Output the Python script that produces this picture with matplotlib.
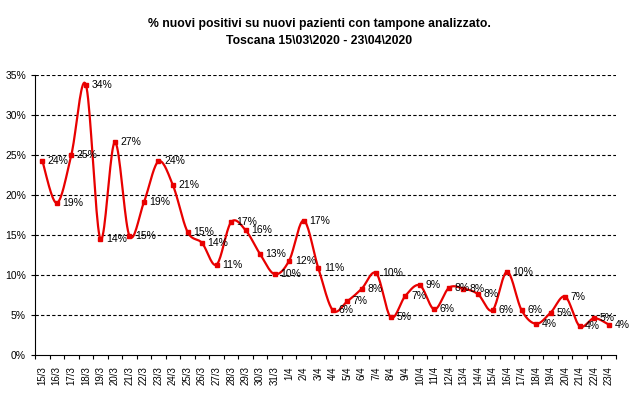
import numpy as np
import matplotlib
matplotlib.use("Agg")
import matplotlib.pyplot as plt
from matplotlib.ticker import FuncFormatter

plt.rcParams['font.family'] = ['Liberation Sans', 'DejaVu Sans']

# giorni (15/3 - 23/4)
giorni = ["15/3", "16/3", "17/3", "18/3", "19/3", "20/3", "21/3", "22/3", "23/3", "24/3",
          "25/3", "26/3", "27/3", "28/3", "29/3", "30/3", "31/3", "1/4", "2/4", "3/4",
          "4/4", "5/4", "6/4", "7/4", "8/4", "9/4", "10/4", "11/4", "12/4", "13/4",
          "14/4", "15/4", "16/4", "17/4", "18/4", "19/4", "20/4", "21/4", "22/4", "23/4"]

# % nuovi positivi su nuovi pazienti testati
perc = [24.3, 19.0, 25.0, 33.8, 14.5, 26.6, 14.9, 19.1, 24.2, 21.2,
        15.4, 14.0, 11.3, 16.6, 15.6, 12.6, 10.1, 11.8, 16.8, 10.9,
        5.6, 6.7, 8.3, 10.2, 4.7, 7.4, 8.7, 5.7, 8.4, 8.3,
        7.6, 5.6, 10.4, 5.6, 3.9, 5.3, 7.3, 3.6, 4.6, 3.8]

x = np.arange(len(perc))
y = np.array(perc)

# linea smussata tipo Excel (bezier catmull-rom tra i punti)
def smussa(x, y, n=20):
    px = np.concatenate([[x[0]], x, [x[-1]]])
    py = np.concatenate([[y[0]], y, [y[-1]]])
    xs, ys = [], []
    t = np.linspace(0, 1, n)
    for i in range(1, len(px) - 2):
        p0 = np.array([px[i], py[i]])
        p3 = np.array([px[i + 1], py[i + 1]])
        p1 = p0 + (np.array([px[i + 1], py[i + 1]]) - np.array([px[i - 1], py[i - 1]])) / 6
        p2 = p3 - (np.array([px[i + 2], py[i + 2]]) - np.array([px[i], py[i]])) / 6
        b = ((1 - t) ** 3)[:, None] * p0 + (3 * (1 - t) ** 2 * t)[:, None] * p1 \
            + (3 * (1 - t) * t ** 2)[:, None] * p2 + (t ** 3)[:, None] * p3
        xs.append(b[:, 0])
        ys.append(b[:, 1])
    return np.concatenate(xs), np.concatenate(ys)

fig = plt.figure(figsize=(6.38, 3.99), dpi=100)
ax = fig.add_axes([35 / 638, 44 / 399, 581 / 638, 280 / 399])

sx, sy = smussa(x, y)
ax.plot(sx, sy, color='#e80000', lw=1.6, zorder=3)
ax.plot(x, y, 's', color='#e80000', ms=3, zorder=4)

for xi, yi in zip(x, y):
    ax.annotate(f"{yi:.0f}%", (xi, yi), xytext=(4, 0), textcoords='offset points',
                va='center', ha='left', fontsize=7.5, color='black', zorder=5)

ax.set_xlim(-0.5, len(perc) - 0.5)
ax.set_ylim(0, 35)
ax.set_yticks(np.arange(0, 36, 5))
ax.yaxis.set_major_formatter(FuncFormatter(lambda v, p: f"{v:.0f}%"))
for g in range(5, 36, 5):
    ax.axhline(g, color='black', lw=0.8, ls=(0, (3, 2)), zorder=1)

ax.set_xticks(np.arange(-0.5, len(perc), 1))
ax.set_xticklabels([])
ax.set_xticks(x, minor=True)
ax.set_xticklabels(giorni, minor=True, rotation=90, fontsize=7)
ax.tick_params(axis='x', which='minor', length=0, pad=8)
ax.tick_params(axis='x', which='major', length=3, width=0.8)
ax.tick_params(axis='y', length=3, width=0.8, labelsize=7.5)

ax.spines['top'].set_visible(False)
ax.spines['right'].set_visible(False)

fig.text(0.5, 1 - 24 / 399, "% nuovi positivi su nuovi pazienti con tampone analizzato.",
         ha='center', va='center', fontsize=8.8, fontweight='bold')
fig.text(0.5, 1 - 41 / 399, "Toscana 15\\03\\2020 - 23\\04\\2020",
         ha='center', va='center', fontsize=8.8, fontweight='bold')

fig.savefig("out.png", dpi=100)
